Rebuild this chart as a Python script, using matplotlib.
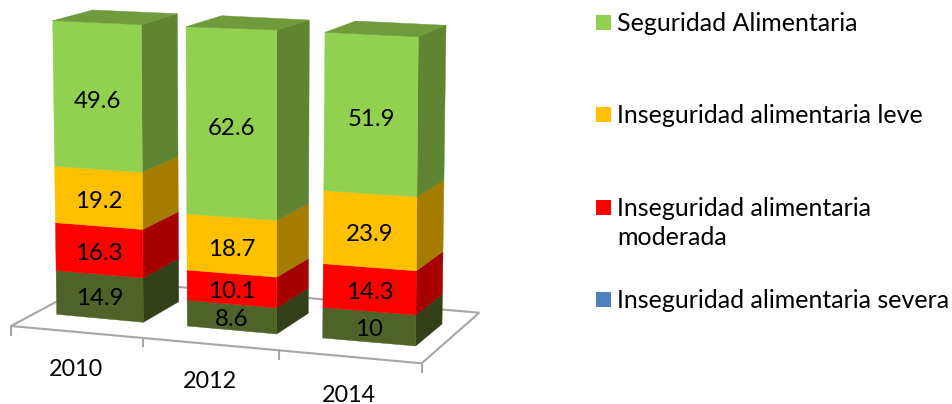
import matplotlib
matplotlib.use("Agg")
import matplotlib.pyplot as plt
from matplotlib.patches import Polygon, Rectangle
import numpy as np

# ---- data ----
years = ["2010", "2012", "2014"]
severa = [14.9, 8.6, 10]
moderada = [16.3, 10.1, 14.3]
leve = [19.2, 18.7, 23.9]
seguridad = [49.6, 62.6, 51.9]
legend_labels = ["Seguridad Alimentaria", "Inseguridad alimentaria leve",
                 "Inseguridad alimentaria\nmoderada", "Inseguridad alimentaria severa"]

# ---- styles ----
stack = [severa, moderada, leve, seguridad]
front_col = ["#4F6228", "#FF0000", "#FFC000", "#92D050"]
side_col = ["#333F18", "#A60000", "#A67C00", "#5F8532"]
top_col = "#6F9B3D"
legend_col = ["#92D050", "#FFC000", "#FF0000", "#4F81BD"]
label_dy = [2.5, 3.0, 4.0, 5.5]
grey = "#A6A6A6"
FONT = "Lato"
V_MAX = 100.0

# ---- pseudo-3D layout: projected box frames (pixels) for value 0 and V_MAX ----
frames = [
    dict(fl=((56.7, 314.3), (52.7, 20.7)), fr=((143.3, 322.3), (141.3, 24.7)),
         br=((178.7, 301.7), (177.3, 13.7)), bl_top=(92.7, 10.0)),
    dict(fl=((187.3, 326.0), (186.0, 26.7)), fr=((276.7, 334.0), (276.7, 30.0)),
         br=((308.3, 313.3), (309.3, 20.0)), bl_top=(221.7, 15.7)),
    dict(fl=((322.7, 338.0), (325.0, 32.3)), fr=((415.7, 346.0), (418.3, 36.7)),
         br=((442.0, 324.0), (446.0, 25.3)), bl_top=(355.7, 21.0)),
]
floor = dict(left=(11, 326), right=(421.7, 363.3), back_right=(479.3, 312.7), back_left=(97, 280))
tick_x = [11, 142.7, 279.3, 421.7]
tick_len = 8.5
year_xy = [(76, 369), (209.5, 381), (349, 395)]
legend_y = [22.5, 114.5, 207.5, 299.5]


def on_edge(edge, value):
    base, top = np.array(edge[0]), np.array(edge[1])
    return base + (top - base) * value / V_MAX


fig = plt.figure(figsize=(9.53, 4.04), dpi=100)
ax = fig.add_axes([0, 0, 1, 1])
ax.set_xlim(0, 953)
ax.set_ylim(404, 0)
ax.axis("off")

# floor
L, R, BR, BL = (floor[k] for k in ("left", "right", "back_right", "back_left"))
ax.plot([BL[0], L[0], R[0], BR[0], BL[0]], [BL[1], L[1], R[1], BR[1], BL[1]],
        color=grey, lw=1.5, solid_joinstyle="miter", zorder=1)
for tx in tick_x:
    t = (tx - L[0]) / (R[0] - L[0])
    ty = L[1] + t * (R[1] - L[1])
    ax.plot([tx, tx], [ty, ty + tick_len], color=grey, lw=1.5, zorder=1)

# bars
for i, fr in enumerate(frames):
    bottom = 0.0
    for s, series in enumerate(stack):
        v = series[i]
        a, b = bottom, bottom + v
        fl0, fl1 = on_edge(fr["fl"], a), on_edge(fr["fl"], b)
        fr0, fr1 = on_edge(fr["fr"], a), on_edge(fr["fr"], b)
        br0, br1 = on_edge(fr["br"], a), on_edge(fr["br"], b)
        ax.add_patch(Polygon([fr0, fr1, br1, br0], closed=True, fc=side_col[s],
                             ec=side_col[s], lw=0.3, zorder=2 + i))
        ax.add_patch(Polygon([fl0, fl1, fr1, fr0], closed=True, fc=front_col[s],
                             ec=front_col[s], lw=0.3, zorder=2 + i))
        c = (fl0 + fl1 + fr0 + fr1) / 4
        ax.text(c[0], c[1] + label_dy[s], f"{v:g}", ha="center", va="center", fontsize=17.3,
                family=FONT, color="black", zorder=6)
        bottom = b
    ax.add_patch(Polygon([on_edge(fr["fl"], V_MAX), on_edge(fr["fr"], V_MAX),
                          on_edge(fr["br"], V_MAX), fr["bl_top"]], closed=True,
                         fc=top_col, ec=top_col, lw=0.3, zorder=2 + i))

# category labels
for lab, (x, y) in zip(years, year_xy):
    ax.text(x, y, lab, ha="center", va="center", fontsize=16.8, family=FONT, color="black")

# legend
for lab, col, y in zip(legend_labels, legend_col, legend_y):
    ax.add_patch(Rectangle((596, y - 7.5), 15, 15, fc=col, ec="none"))
    ax.text(617, y - 10.5, lab, ha="left", va="top", fontsize=18, family=FONT,
            color="black", linespacing=1.31)

fig.savefig("out.png", dpi=100, facecolor="white")
